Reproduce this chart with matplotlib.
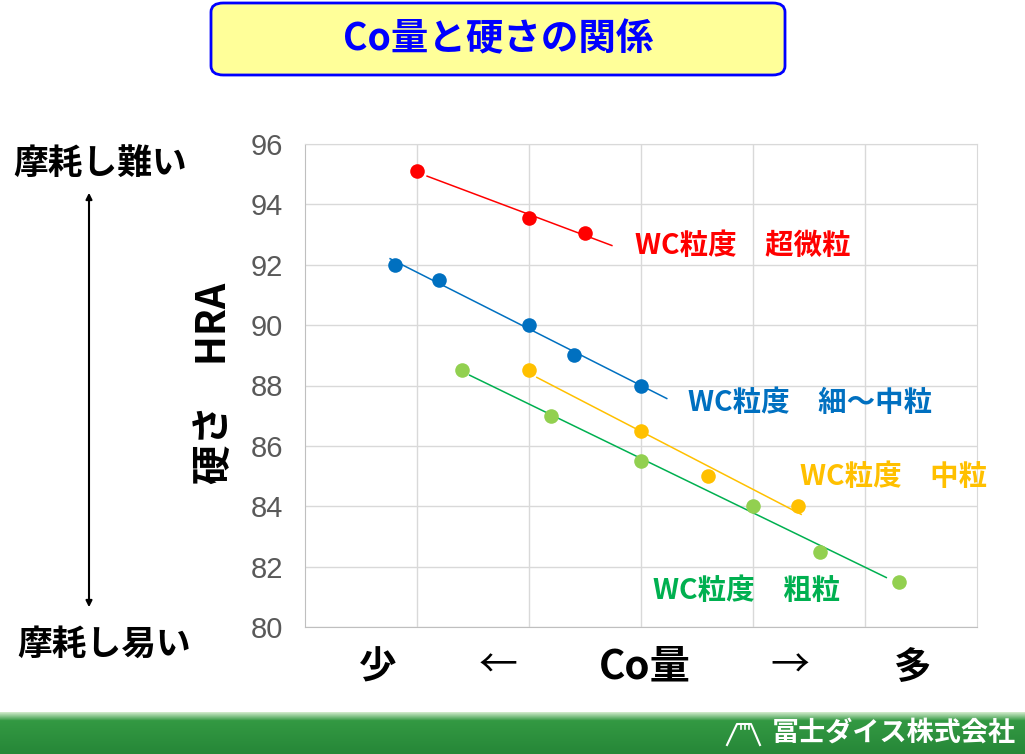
import numpy as np
import matplotlib
matplotlib.use("Agg")
import matplotlib.pyplot as plt
from matplotlib.patches import FancyBboxPatch, FancyArrowPatch
from matplotlib.lines import Line2D

plt.rcParams["font.family"] = ["Noto Sans CJK JP", "DejaVu Sans"]
plt.rcParams["axes.unicode_minus"] = False

# データ (Co量は相対位置, 硬さ HRA)
red_x = [1.0, 2.0, 2.5]
red_y = [95.1, 93.55, 93.05]
blue_x = [0.8, 1.2, 2.0, 2.4, 3.0]
blue_y = [92.0, 91.5, 90.0, 89.0, 88.0]
yellow_x = [2.0, 3.0, 3.6, 4.4]
yellow_y = [88.5, 86.5, 85.0, 84.0]
green_x = [1.4, 2.2, 3.0, 4.0, 4.6, 5.3]
green_y = [88.5, 87.0, 85.5, 84.0, 82.5, 81.5]

# 近似線の範囲
red_trend = [1.09, 2.74]
blue_trend = [0.76, 3.23]
yellow_trend = [2.07, 4.43]
green_trend = [1.47, 5.19]

yticks = [80, 82, 84, 86, 88, 90, 92, 94, 96]

series = [
    (red_x, red_y, red_trend, "#FF0000", "#FF0000", "#FF0000", "WC粒度　超微粒", (2.95, 92.62)),
    (blue_x, blue_y, blue_trend, "#0070C0", "#0070C0", "#0070C0", "WC粒度　細～中粒", (3.42, 87.42)),
    (yellow_x, yellow_y, yellow_trend, "#FFC000", "#FFC000", "#FFC000", "WC粒度　中粒", (4.42, 84.98)),
    (green_x, green_y, green_trend, "#92D050", "#00B050", "#00B050", "WC粒度　粗粒", (3.11, 81.19)),
]

fig = plt.figure(figsize=(10.25, 7.54), dpi=100)
ax = fig.add_axes([305 / 1025, 127 / 754, 672 / 1025, 483 / 754])

for xs, ys, tr, mcol, lcol, tcol, label, pos in series:
    k, b = np.polyfit(xs, ys, 1)
    tx = np.array(tr)
    ax.plot(tx, k * tx + b, color=lcol, lw=1.1, zorder=2)
    ax.scatter(xs, ys, s=110, color=mcol, zorder=3, linewidths=0)
    ax.text(pos[0], pos[1], label, color=tcol, fontsize=20.5, fontweight="bold",
            va="center", ha="left")

ax.set_xlim(0, 6)
ax.set_ylim(80, 96)
ax.set_xticks([1, 2, 3, 4, 5])
ax.set_xticklabels([])
ax.set_yticks(yticks)
ax.set_yticklabels([str(v) for v in yticks], fontsize=21, color="#595959",
                   family="Liberation Sans")
ax.tick_params(length=0, pad=16)
ax.grid(True, color="#D9D9D9", lw=1)
ax.set_axisbelow(True)
for s in ["top", "right"]:
    ax.spines[s].set_color("#D9D9D9")
for s in ["left", "bottom"]:
    ax.spines[s].set_color("#BFBFBF")

# 縦軸ラベル
fig.text(215 / 1025, 1 - 383 / 754, "硬さ　HRA", rotation=90, fontsize=28.5,
         fontweight="bold", ha="center", va="center")

# 横軸の説明
fig.text(378 / 1025, 1 - 667 / 754, "少", fontsize=27, fontweight="bold", ha="center", va="center")
fig.text(498 / 1025, 1 - 667 / 754, "←", fontsize=28, ha="center", va="center")
fig.text(645 / 1025, 1 - 667 / 754, "Co量", fontsize=29, fontweight="bold", ha="center", va="center")
fig.text(790 / 1025, 1 - 667 / 754, "→", fontsize=28, ha="center", va="center")
fig.text(912 / 1025, 1 - 667 / 754, "多", fontsize=27, fontweight="bold", ha="center", va="center")

# 左側の矢印と説明
fig.text(100 / 1025, 1 - 163 / 754, "摩耗し難い", fontsize=25, fontweight="bold",
         ha="center", va="center")
fig.text(104 / 1025, 1 - 644 / 754, "摩耗し易い", fontsize=25, fontweight="bold",
         ha="center", va="center")
fig.patches.append(FancyArrowPatch(
    (89 / 1025, 1 - 190 / 754), (89 / 1025, 1 - 610 / 754), transform=fig.transFigure,
    arrowstyle="<|-|>", mutation_scale=9, color="black", lw=1.5))

# タイトル
box = FancyBboxPatch((211 / 1025, 1 - 75 / 754), 574 / 1025, 72 / 754,
                     boxstyle="round,pad=0,rounding_size=0.012",
                     transform=fig.transFigure, facecolor="#FFFF99",
                     edgecolor="#0000FF", lw=2)
fig.patches.append(box)
fig.text(498 / 1025, 1 - 39 / 754, "Co量と硬さの関係", fontsize=27, fontweight="bold",
         color="#0000FF", ha="center", va="center")

# フッター
fax = fig.add_axes([0, 0, 1, 42 / 754])
grad = np.linspace(0, 1, 42)
top = np.array([0.80, 0.91, 0.78])
mid = np.array([0.20, 0.60, 0.26])
bot = np.array([0.15, 0.53, 0.22])
cols = []
for g in grad:
    if g < 0.2:
        c = top + (mid - top) * (g / 0.2)
    else:
        c = mid + (bot - mid) * ((g - 0.2) / 0.8)
    cols.append(c)
img = np.array(cols)[:, None, :]
fax.imshow(img, aspect="auto", extent=[0, 1, 0, 1])
fax.set_axis_off()
fig.text(1016 / 1025, 1 - 733 / 754, "冨士ダイス株式会社", fontsize=19.5, color="white",
         fontweight="bold", ha="right", va="center")
logo_x = [727, 737, 751, 760]
logo_y = [745, 724, 724, 745]
fig.lines.append(Line2D([v / 1025 for v in logo_x], [1 - v / 754 for v in logo_y],
                        transform=fig.transFigure, color="white", lw=1.5))
for lx in [741, 745, 749]:
    fig.lines.append(Line2D([lx / 1025, lx / 1025], [1 - 724 / 754, 1 - 729 / 754],
                            transform=fig.transFigure, color="white", lw=1.2))

fig.savefig("out.png", dpi=100)
